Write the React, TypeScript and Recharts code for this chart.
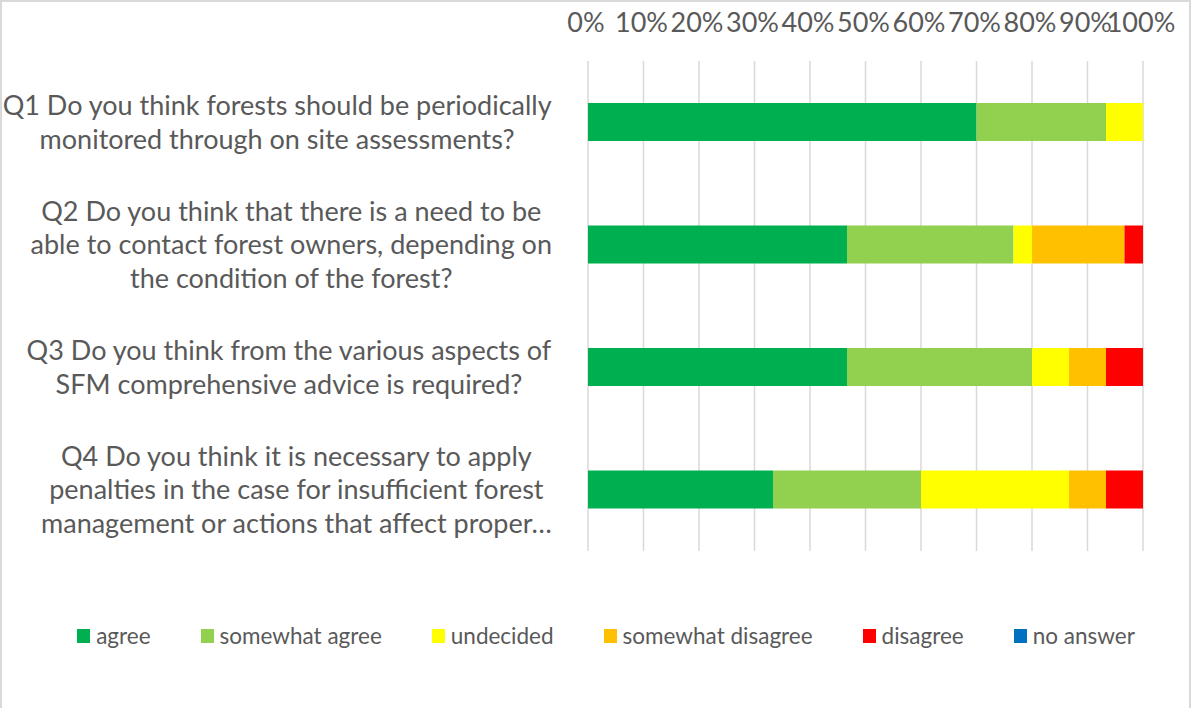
import React from "react";
import { BarChart, Bar, XAxis, YAxis, CartesianGrid, Legend } from "recharts";

const categories = [
  "Q1 Do you think forests should be periodically\nmonitored through on site assessments?",
  "Q2 Do you think that there is a need to be\nable to contact forest owners, depending on\nthe condition of the forest?",
  "Q3 Do you think from the various aspects of\nSFM comprehensive advice is required?",
  "Q4 Do you think it is necessary to apply\npenalties in the case for insufficient forest\nmanagement or actions that affect proper…",
];

const seriesNames = ["agree", "somewhat agree", "undecided", "somewhat disagree", "disagree", "no answer"];
const seriesColors = ["#00B050", "#92D050", "#FFFF00", "#FFC000", "#FF0000", "#0070C0"];

// responses per question (out of 30)
const agree = [21, 14, 14, 10];
const somewhatAgree = [7, 9, 10, 8];
const undecided = [2, 1, 2, 8];
const somewhatDisagree = [0, 5, 2, 2];
const disagree = [0, 1, 2, 2];
const noAnswer = [0, 0, 0, 0];

const xTicks = [0, 0.1, 0.2, 0.3, 0.4, 0.5, 0.6, 0.7, 0.8, 0.9, 1];

const seriesValues = [agree, somewhatAgree, undecided, somewhatDisagree, disagree, noAnswer];
const data = categories.map((name, i) => {
  const row: Record<string, any> = { name };
  seriesNames.forEach((s, k) => {
    row[s] = seriesValues[k][i];
  });
  return row;
});

const FONT = "Lato, 'Open Sans', sans-serif";
const TEXT = "#595959";
const LABEL_SIZE = 27;
const LINE_H = 33.5;

let ctx: CanvasRenderingContext2D | null = null;
function measure(s: string, size: number) {
  if (!ctx) {
    const c = document.createElement("canvas");
    ctx = c.getContext("2d");
  }
  if (!ctx) return s.length * size * 0.5;
  ctx.font = `${size}px Lato`;
  return ctx.measureText(s).width;
}

const CategoryTick = (props: any) => {
  const { x, y, payload } = props;
  const lines = String(payload.value).split("\n");
  const maxW = Math.max(...lines.map((l) => measure(l, LABEL_SIZE)));
  const cx = Math.min(x - 254, x - maxW / 2);
  const startY = y - 1.5 - ((lines.length - 1) * LINE_H) / 2;
  return (
    <text textAnchor="middle" fill={TEXT} fontSize={LABEL_SIZE} fontFamily={FONT} dominantBaseline="central">
      {lines.map((l, i) => (
        <tspan key={i} x={cx} y={startY + i * LINE_H}>
          {l}
        </tspan>
      ))}
    </text>
  );
};

const LegendContent = () => {
  return (
    <div style={{ display: "flex", justifyContent: "center", paddingLeft: 20, fontFamily: FONT, color: TEXT, fontSize: 22.5 }}>
      {seriesNames.map((name, i) => (
        <div key={name} style={{ display: "flex", alignItems: "center", marginRight: i < seriesNames.length - 1 ? 50 : 0 }}>
          <span style={{ display: "inline-block", width: 13, height: 14, background: seriesColors[i], marginRight: 6 }} />
          <span>{name}</span>
        </div>
      ))}
    </div>
  );
};

export default function App() {
  return (
    <div style={{ position: "absolute", left: 0, top: 0, width: 1192, height: 708, overflow: "hidden", background: "#fff" }}>
      <div
        style={{
          position: "absolute",
          left: 0,
          top: 0,
          width: 1191,
          height: 740,
          border: "2px solid #d9d9d9",
          boxSizing: "border-box",
        }}
      />
      <div style={{ position: "absolute", left: 0, top: 0 }}>
        <BarChart
          width={1192}
          height={708}
          data={data}
          layout="vertical"
          stackOffset="expand"
          barSize={38}
          margin={{ top: 0, right: 49, bottom: 157, left: 0 }}
        >
          <CartesianGrid horizontal={false} stroke="#d9d9d9" strokeWidth={1.5} />
          <XAxis
            type="number"
            orientation="top"
            domain={[0, 1]}
            ticks={xTicks}
            tickFormatter={(v: number) => `${Math.round(v * 100)}%`}
            axisLine={false}
            tickLine={false}
            tickSize={0}
            tickMargin={29}
            height={61}
            interval={0}
            tick={{ fill: TEXT, fontSize: 27, fontFamily: FONT, dx: -2 }}
          />
          <YAxis
            type="category"
            dataKey="name"
            width={588}
            axisLine={false}
            tickLine={false}
            tickSize={0}
            tickMargin={36}
            interval={0}
            tick={<CategoryTick />}
          />
          {seriesNames.map((s, k) => (
            <Bar key={s} dataKey={s} name={s} stackId="a" fill={seriesColors[k]} isAnimationActive={false} />
          ))}
          <Legend
            content={<LegendContent />}
            wrapperStyle={{ position: "absolute", left: 0, top: 622, width: 1192, height: 0, overflow: "visible" }}
          />
        </BarChart>
      </div>
    </div>
  );
}
